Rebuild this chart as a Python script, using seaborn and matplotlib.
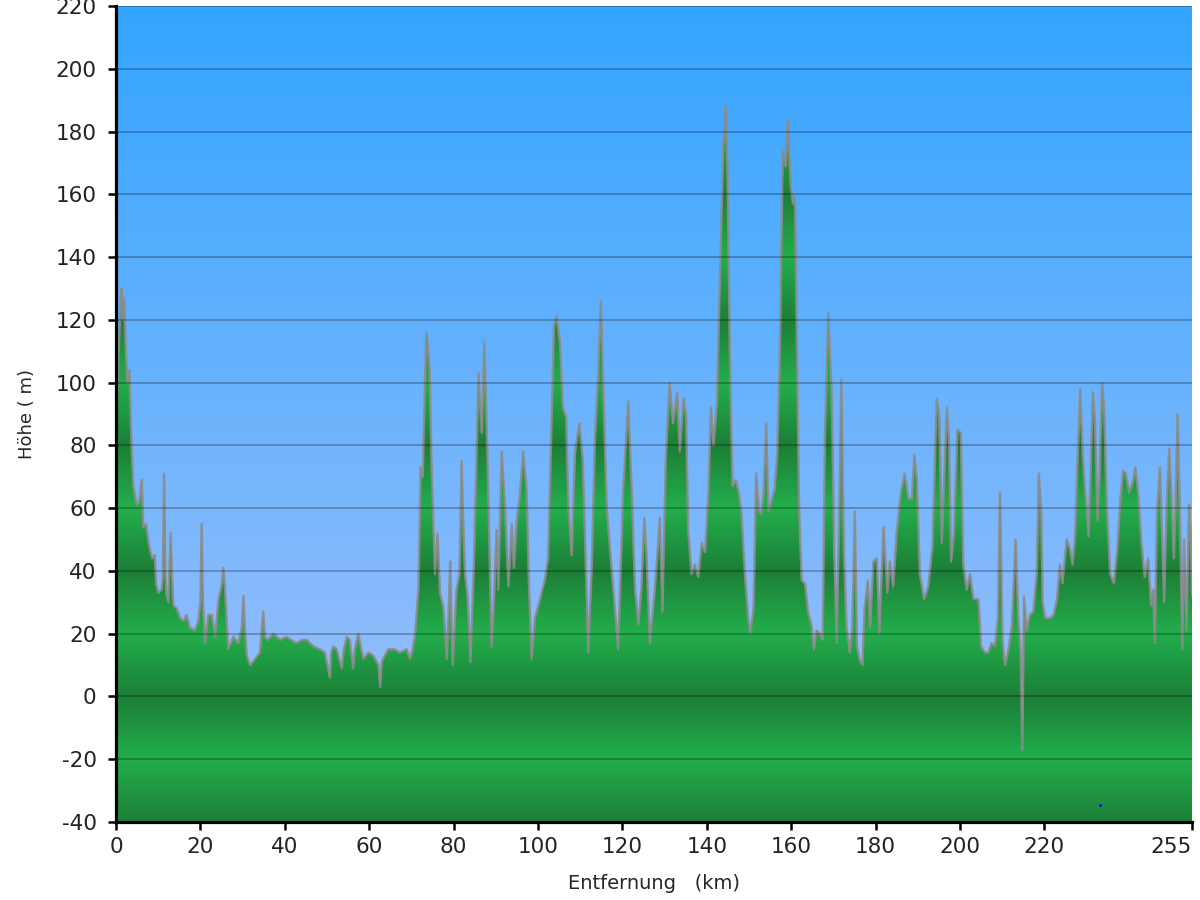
import numpy as np
import matplotlib
matplotlib.use("Agg")
import matplotlib.pyplot as plt
import matplotlib.colors as mcolors
import seaborn as sns

# elevation profile (km, m)
dist_km = [
    0.0, 0.3, 0.7, 1.1, 1.3, 1.6, 1.9, 2.3, 2.7, 3.2, 3.5, 3.7, 4.1, 4.5, 4.9, 5.5, 6.1, 6.5, 7.1, 7.6,
    8.0, 8.6, 9.2, 9.5, 10.0, 10.8, 11.1, 11.4, 11.7, 11.9, 12.4, 12.95, 13.3, 13.6, 14.4, 15.2, 16.0, 16.7, 17.5, 18.7,
    19.5, 20.0, 20.3, 20.6, 21.1, 21.9, 22.7, 23.5, 24.3, 25.0, 25.4, 25.8, 26.6, 27.8, 29.0, 29.8, 30.2, 30.6, 31.0, 31.8,
    33.0, 34.1, 34.6, 34.9, 35.3, 36.0, 37.3, 38.9, 40.4, 41.5, 42.8, 44.0, 45.2, 46.8, 48.3, 49.5, 50.7, 51.0, 51.5, 52.3,
    53.5, 54.0, 54.7, 55.4, 56.2, 56.6, 57.4, 58.0, 58.6, 59.8, 61.0, 62.2, 62.6, 63.0, 63.3, 64.5, 66.1, 67.3, 68.9, 69.7,
    70.3, 70.9, 71.7, 72.2, 72.7, 73.2, 73.6, 74.3, 74.8, 75.6, 76.2, 76.8, 77.6, 78.4, 78.9, 79.2, 79.5, 79.8, 80.7, 81.4,
    81.9, 82.3, 82.7, 83.3, 84.0, 84.8, 85.9, 86.7, 87.3, 88.1, 89.0, 89.5, 90.2, 90.6, 91.4, 92.2, 93.0, 93.8, 94.3, 94.9,
    95.7, 96.5, 97.3, 97.9, 98.5, 99.3, 100.5, 101.6, 102.4, 103.2, 103.8, 104.4, 105.2, 105.9, 106.7, 107.2, 108.0, 108.8, 109.8, 110.6,
    111.4, 111.9, 112.7, 113.5, 114.3, 114.9, 115.5, 116.3, 117.5, 118.2, 119.0, 120.2, 121.4, 122.2, 123.0, 123.8, 124.5, 125.2, 125.7, 126.5,
    127.7, 128.9, 129.5, 130.3, 131.2, 132.0, 133.0, 133.6, 134.5, 135.1, 135.6, 136.4, 137.2, 138.0, 138.8, 139.6, 140.4, 141.0, 141.6, 142.4,
    143.1, 143.9, 144.5, 144.9, 145.5, 146.1, 146.9, 147.7, 148.2, 149.0, 149.8, 150.3, 151.1, 151.7, 152.4, 152.9, 153.5, 154.1, 154.6, 155.1,
    156.1, 156.7, 157.3, 158.0, 158.7, 159.2, 159.9, 160.4, 160.9, 161.4, 161.9, 162.5, 163.3, 164.0, 164.8, 165.4, 166.0, 166.8, 167.5, 168.0,
    168.8, 169.6, 170.2, 170.8, 171.4, 171.9, 172.5, 173.1, 173.9, 174.5, 175.1, 175.6, 176.2, 176.9, 177.4, 178.2, 178.7, 179.5, 180.3, 180.9,
    181.9, 182.8, 183.4, 184.2, 185.0, 186.0, 186.9, 187.8, 188.6, 189.2, 189.8, 190.5, 191.5, 192.5, 193.5, 194.5, 195.1, 195.7, 196.9, 197.4,
    197.9, 198.6, 199.4, 200.2, 200.8, 201.6, 202.4, 203.2, 204.4, 205.0, 205.9, 206.7, 207.5, 208.3, 209.0, 209.5, 210.1, 210.7, 211.5, 212.3,
    213.2, 213.8, 214.4, 214.8, 215.2, 215.8, 216.6, 217.4, 218.2, 218.7, 219.3, 219.6, 220.2, 221.4, 222.2, 223.0, 223.7, 224.3, 225.3, 226.1,
    226.7, 227.3, 227.8, 228.5, 229.1, 229.7, 230.5, 231.0, 231.5, 232.0, 232.6, 233.1, 233.7, 234.2, 234.8, 235.6, 236.5, 237.3, 238.1, 238.7,
    239.3, 240.1, 240.9, 241.6, 242.3, 243.0, 243.8, 244.6, 245.3, 245.8, 246.2, 246.7, 247.4, 247.9, 248.4, 249.0, 249.6, 250.2, 250.7, 251.1,
    251.6, 252.0, 252.3, 252.7, 253.1, 253.7, 254.3, 254.7, 255.0,
]
elev_m = [
    88, 96, 112, 126, 130, 120, 127, 112, 100, 104, 88, 80, 67, 64, 61, 62, 69, 54, 55, 50,
    47, 44, 45, 36, 33, 34, 38, 71, 40, 33, 30, 52, 38, 29, 28, 25, 24, 26, 22, 21,
    24, 30, 55, 30, 17, 26, 26, 19, 31, 35, 41, 35, 15, 19, 17, 22, 32, 20, 13, 10,
    12, 14, 22, 27, 19, 18, 20, 18, 19, 18, 17, 18, 18, 16, 15, 14, 6, 14, 16, 15,
    9, 15, 19, 18, 9, 15, 20, 16, 12, 14, 13, 10, 3, 11, 12, 15, 15, 14, 15, 12,
    15, 20, 35, 73, 70, 100, 116, 105, 73, 39, 52, 33, 28, 12, 30, 43, 25, 10, 34, 39,
    75, 55, 39, 32, 11, 41, 103, 84, 113, 73, 16, 28, 53, 34, 78, 60, 35, 55, 41, 55,
    64, 78, 66, 34, 12, 25, 31, 37, 44, 87, 118, 121, 113, 92, 89, 60, 45, 78, 87, 76,
    39, 14, 39, 82, 104, 126, 98, 60, 40, 28, 15, 66, 94, 66, 34, 23, 34, 57, 46, 17,
    34, 57, 27, 76, 100, 87, 97, 78, 95, 90, 53, 39, 42, 38, 49, 46, 65, 92, 80, 93,
    132, 175, 188, 169, 108, 67, 69, 64, 59, 40, 25, 20, 28, 71, 59, 58, 65, 87, 59, 61,
    66, 77, 108, 174, 169, 184, 163, 157, 159, 108, 59, 37, 36, 27, 23, 15, 21, 20, 18, 83,
    122, 97, 47, 17, 59, 101, 47, 22, 14, 22, 59, 16, 12, 10, 28, 37, 22, 43, 44, 20,
    54, 33, 43, 35, 52, 65, 71, 63, 63, 77, 69, 39, 31, 35, 48, 95, 90, 49, 92, 82,
    43, 52, 85, 84, 42, 34, 39, 31, 31, 16, 14, 14, 17, 16, 25, 65, 18, 10, 15, 22,
    50, 26, 14, -17, 32, 21, 26, 27, 39, 71, 58, 30, 25, 25, 26, 31, 42, 36, 50, 47,
    42, 51, 72, 98, 77, 65, 51, 72, 97, 88, 56, 70, 100, 91, 61, 39, 36, 47, 64, 72,
    71, 65, 68, 73, 64, 49, 38, 44, 29, 34, 17, 59, 73, 51, 30, 61, 79, 61, 44, 61,
    90, 67, 46, 15, 50, 21, 61, 52, 32,
]
x_ticks = [0, 20, 40, 60, 80, 100, 120, 140, 160, 180, 200, 220, 255]
y_ticks = list(range(-40, 221, 20))
marker_pt = (233.2, -34.6)  # the little blue dot near the bottom right

sns.set_style("ticks")
plt.rcParams["font.family"] = ["DejaVu Sans"]
plt.rcParams["text.color"] = "#222222"
plt.rcParams["axes.unicode_minus"] = False

fig = plt.figure(figsize=(12, 9), dpi=100)
ax = fig.add_axes([116 / 1200, 1 - 822 / 900, 1076 / 1200, 816 / 900])

xmin, xmax, ymin, ymax = 0, 255, -40, 220

# sky gradient behind everything
top_c = np.array(mcolors.to_rgb("#33a5ff"))
bot_c = np.array(mcolors.to_rgb("#a6c2fb"))
f = np.linspace(0, 1, 520)[:, None]
sky = (bot_c * (1 - f) + top_c * f)[:, None, :]
ax.imshow(sky, extent=[xmin, xmax, ymin, ymax], origin="lower", aspect="auto", zorder=0)

# green banded gradient, clipped to the profile area
levels = np.linspace(ymin, ymax, 1040)
d = np.mod(levels, 40) / 20.0
t = 1 - np.abs(d - 1)
dark = np.array(mcolors.to_rgb("#1c7f37"))
bright = np.array(mcolors.to_rgb("#23ae4c"))
green = (dark * (1 - t[:, None]) + bright * t[:, None])[:, None, :]
poly = ax.fill_between(dist_km, elev_m, ymin, color="none", lw=0)
im = ax.imshow(green, extent=[xmin, xmax, ymin, ymax], origin="lower", aspect="auto", zorder=1)
im.set_clip_path(poly.get_paths()[0], transform=ax.transData)

sns.lineplot(x=dist_km, y=elev_m, ax=ax, color="#8c8c8c", lw=1.7, sort=False,
             estimator=None, alpha=0.9, zorder=2)
ax.scatter([marker_pt[0]], [marker_pt[1]], s=4, color="#0000ff", zorder=3, lw=0)

ax.set_xlim(xmin, xmax)
ax.set_ylim(ymin, ymax)
ax.set_xticks(x_ticks)
ax.set_yticks(y_ticks)
ax.set_axisbelow(False)
ax.grid(axis="y", color="#000000", alpha=0.25, lw=1.4)
ax.grid(axis="x", visible=False)

for s in ["top", "right"]:
    ax.spines[s].set_visible(False)
for s in ["left", "bottom"]:
    ax.spines[s].set_linewidth(2.3)
    ax.spines[s].set_color("black")
ax.tick_params(axis="both", direction="out", length=6, width=1.8, color="black",
               labelsize=15.5, labelcolor="#222222")
ax.tick_params(axis="y", pad=8)
ax.tick_params(axis="x", pad=5)
# last x label sits flush with the right edge like the reference
ax.get_xticklabels()[-1].set_horizontalalignment("right")

ax.set_xlabel("Entfernung   (km)", fontsize=14, labelpad=12)
ax.set_ylabel("Höhe ( m)", fontsize=13, labelpad=14)

fig.savefig("out.png", dpi=100)
